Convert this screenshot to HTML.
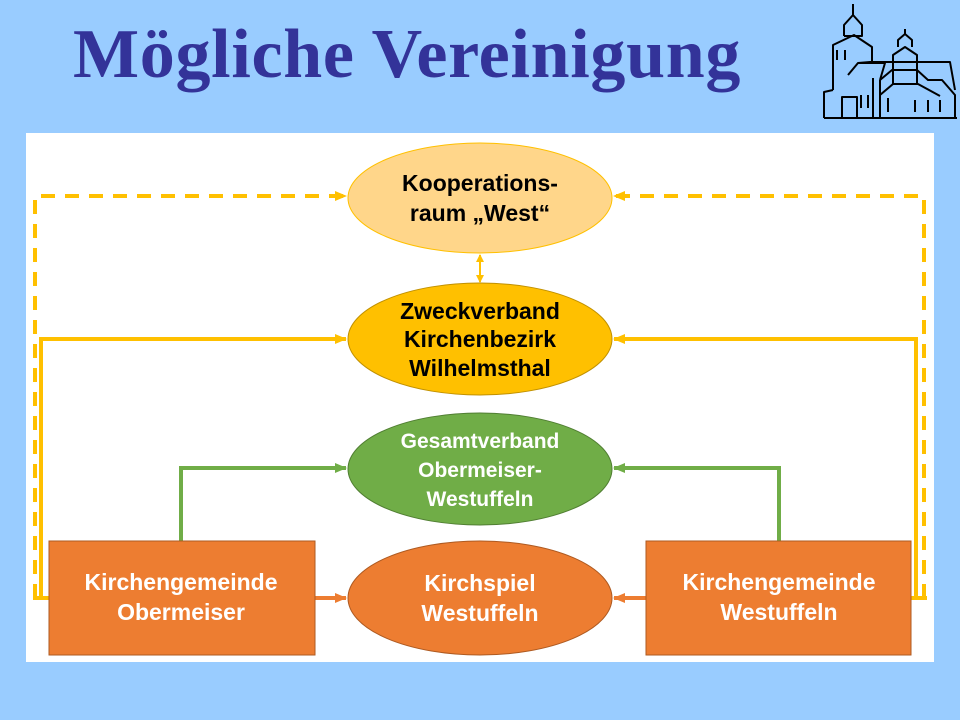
<!DOCTYPE html>
<html><head><meta charset="utf-8"><style>
body{margin:0;width:960px;height:720px;background:#99CCFF;overflow:hidden;position:relative;font-family:"Liberation Sans",sans-serif}
.title{position:absolute;left:73px;top:15px;font-family:"Liberation Serif",serif;font-weight:bold;font-size:70px;color:#333399;letter-spacing:0.7px;white-space:nowrap}
</style></head><body>
<div class="title">Mögliche Vereinigung</div>
<svg width="960" height="720" style="position:absolute;left:0;top:0">
<defs>
<marker id="ay" markerWidth="12" markerHeight="12" refX="11" refY="6" orient="auto" markerUnits="userSpaceOnUse"><path d="M0,1 L12,6 L0,11 z" fill="#FFC000"/></marker>
<marker id="ays" markerWidth="8" markerHeight="8" refX="7" refY="4" orient="auto-start-reverse" markerUnits="userSpaceOnUse"><path d="M0,0 L8,4 L0,8 z" fill="#FFC000"/></marker>
<marker id="ag" markerWidth="12" markerHeight="12" refX="11" refY="6" orient="auto" markerUnits="userSpaceOnUse"><path d="M0,1 L12,6 L0,11 z" fill="#70AD47"/></marker>
<marker id="ao" markerWidth="12" markerHeight="12" refX="11" refY="6" orient="auto" markerUnits="userSpaceOnUse"><path d="M0,1 L12,6 L0,11 z" fill="#ED7D31"/></marker>
</defs>
<g stroke="#000" stroke-width="2" fill="none" stroke-linejoin="round">
<path d="M833,90 V45 L854,35 L872,47 V63"/>
<path d="M844,36 V25 L853,15 L862,25 V36 H844"/><path d="M853,15 V4"/>
<path d="M858,63 L870,62 H950 L955,90"/>
<path d="M848,75 L858,63 L885,63 L880,80"/>
<path d="M824,118 V92 L833,90 M824,118 H957"/>
<path d="M842,118 V97 H857 V118"/>
<path d="M873,118 V78 M880,80 L892,70 H917 L928,80 L942,80 L955,95 V118 M880,80 V118"/>
<path d="M880,95 L893,84 H918 L940,96 M893,70 V84 M917,70 V84"/>
<path d="M893,70 V55 L905,47 L917,55 V70"/><path d="M898,47 V40 L905,34 L912,40 V47"/><path d="M905,34 V29"/>
<path d="M861,95 V108 M868,95 V108 M888,98 V112 M915,100 V112 M928,100 V112 M940,100 V112 M837,50 V60 M845,50 V60"/>
</g>
<rect x="26" y="133" width="908" height="529" fill="#fff"/>
<g fill="none" stroke="#FFC000" stroke-width="4">
<path d="M35,598 V196 H346" stroke-dasharray="14,10" marker-end="url(#ay)"/>
<path d="M924,598 V196 H614" stroke-dasharray="14,10" marker-end="url(#ay)"/>
<path d="M41,598 V339 H346" marker-end="url(#ay)"/>
<path d="M916,598 V339 H614" marker-end="url(#ay)"/>
<path d="M33,598 H49 M911,598 H927"/>
</g>
<line x1="480" y1="255" x2="480" y2="282" stroke="#FFC000" stroke-width="2" marker-start="url(#ays)" marker-end="url(#ays)"/>
<g fill="none" stroke="#70AD47" stroke-width="4">
<path d="M181,541 V468 H346" marker-end="url(#ag)"/>
<path d="M779,541 V468 H614" marker-end="url(#ag)"/>
</g>
<g fill="none" stroke="#ED7D31" stroke-width="4">
<path d="M315,598 H346" marker-end="url(#ao)"/>
<path d="M646,598 H614" marker-end="url(#ao)"/>
</g>
<ellipse cx="480" cy="198" rx="132" ry="55" fill="#FFD68A" stroke="#FFC000" stroke-width="1"/>
<ellipse cx="480" cy="339" rx="132" ry="56" fill="#FFC000" stroke="#C09000" stroke-width="1"/>
<ellipse cx="480" cy="469" rx="132" ry="56" fill="#70AD47" stroke="#507E32" stroke-width="1"/>
<ellipse cx="480" cy="598" rx="132" ry="57" fill="#ED7D31" stroke="#AE5A21" stroke-width="1"/>
<rect x="49" y="541" width="266" height="114" fill="#ED7D31" stroke="#AE5A21"/>
<rect x="646" y="541" width="265" height="114" fill="#ED7D31" stroke="#AE5A21"/>
<g font-family="Liberation Sans, sans-serif" font-weight="bold" font-size="23" text-anchor="middle">
<text x="480" y="191">Kooperations-</text><text x="480" y="221">raum „West“</text>
<text x="480" y="319">Zweckverband</text><text x="480" y="347">Kirchenbezirk</text><text x="480" y="376">Wilhelmsthal</text>
<g fill="#fff" font-size="21">
<text x="480" y="448">Gesamtverband</text><text x="480" y="477">Obermeiser-</text><text x="480" y="506">Westuffeln</text>
</g>
<g fill="#fff">
<text x="480" y="591">Kirchspiel</text><text x="480" y="621">Westuffeln</text>
<text x="181" y="590">Kirchengemeinde</text><text x="181" y="620">Obermeiser</text>
<text x="779" y="590">Kirchengemeinde</text><text x="779" y="620">Westuffeln</text>
</g>
</g>
</svg>
</body></html>
